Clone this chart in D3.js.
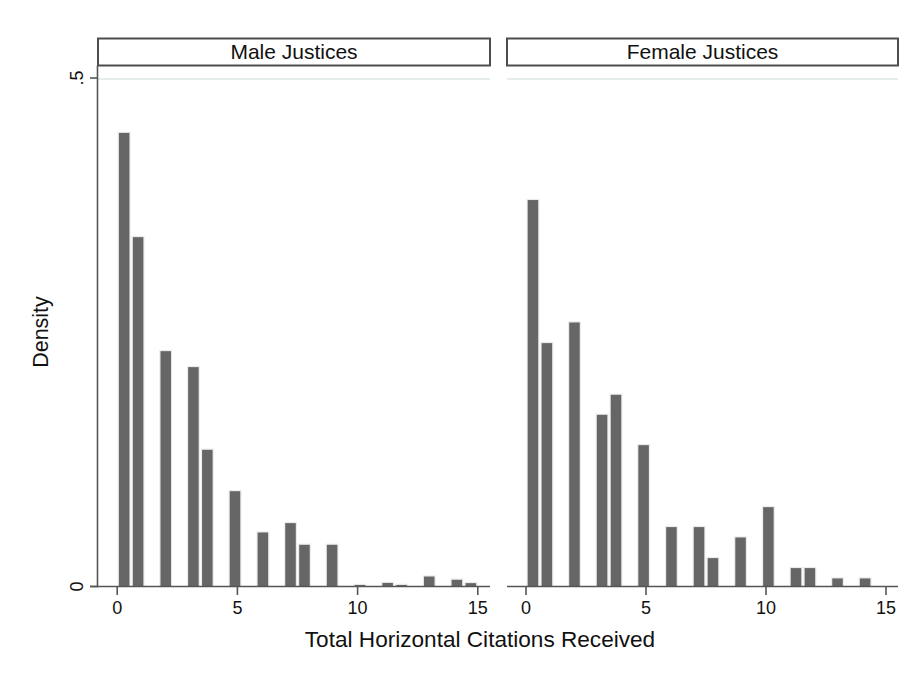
<!DOCTYPE html>
<html>
<head>
<meta charset="utf-8">
<script src="https://cdn.jsdelivr.net/npm/d3@7"></script>
<style>
  html, body { margin: 0; padding: 0; background: #ffffff; }
  svg { display: block; font-family: "Liberation Sans", Arial, Helvetica, sans-serif; }
</style>
</head>
<body>
<svg id="chart" width="917" height="673"></svg>
<script>
// ---- data ----
const panels = ["Male Justices", "Female Justices"];
const binWidth = 15 / 26;            // histogram bin width
const maleBinCenters = [0.29, 0.87, 2.02, 3.17, 3.75, 4.90, 6.06, 7.21, 7.79, 8.94, 10.10, 11.25, 11.83, 12.98, 14.13, 14.71];
const maleDensity    = [0.446, 0.3435, 0.2314, 0.2157, 0.1344, 0.0937, 0.0531, 0.0623, 0.041, 0.041, 0.0015, 0.0035, 0.0015, 0.0098, 0.0066, 0.0033];
const femaleBinCenters = [0.29, 0.87, 2.02, 3.17, 3.75, 4.90, 6.06, 7.21, 7.79, 8.94, 10.10, 11.25, 11.83, 12.98, 14.13];
const femaleDensity    = [0.380, 0.2393, 0.2596, 0.1688, 0.1885, 0.139, 0.0584, 0.0584, 0.0279, 0.0482, 0.078, 0.0181, 0.0181, 0.0079, 0.0079];
const xTicks = [0, 5, 10, 15];
const yTicks = [0, 0.5];
const yTickLabels = ["0", ".5"];
const xTitle = "Total Horizontal Citations Received";
const yTitle = "Density";

const series = [
  { name: panels[0], x: maleBinCenters, y: maleDensity },
  { name: panels[1], x: femaleBinCenters, y: femaleDensity }
];

// ---- layout ----
const svg = d3.select("#chart");
const panelBoxes = [
  { left: 98, right: 490, axisStart: 90, zeroX: 117.2, fifteenX: 477.8 },
  { left: 507, right: 898, axisStart: 507, zeroX: 526, fifteenX: 886 }
];
const headerTop = 38.5, headerBottom = 65.5;
const y = d3.scaleLinear().domain([0, 0.5]).range([586.5, 78]);
const axisColor = "#555555";
const barColor = "#666666";

series.forEach((s, i) => {
  const pb = panelBoxes[i];
  const x = d3.scaleLinear().domain([0, 15]).range([pb.zeroX, pb.fifteenX]);
  const g = svg.append("g");

  // header strip
  g.append("rect")
    .attr("x", pb.left).attr("y", headerTop)
    .attr("width", pb.right - pb.left).attr("height", headerBottom - headerTop)
    .attr("fill", "#ffffff").attr("stroke", "#4d4d4d").attr("stroke-width", 2);
  g.append("text")
    .attr("x", (pb.left + pb.right) / 2).attr("y", 59.3)
    .attr("text-anchor", "middle")
    .attr("font-size", 21).attr("fill", "#111")
    .text(s.name);

  // grid line at .5
  g.append("line")
    .attr("x1", pb.left).attr("x2", pb.right)
    .attr("y1", y(0.5) + 1).attr("y2", y(0.5) + 1)
    .attr("stroke", "#e6eded").attr("stroke-width", 2);

  // bars
  const data = s.x.map((v, k) => ({ c: v, d: s.y[k] }));
  const pxBin = x(binWidth) - x(0);
  const wFill = pxBin * 0.76;
  const wHalo = wFill + 2.4;
  g.selectAll("rect.halo").data(data).join("rect")
    .attr("class", "halo")
    .attr("x", d => x(d.c) - wHalo / 2)
    .attr("width", wHalo)
    .attr("y", d => y(d.d) - 1.2)
    .attr("height", d => y(0) - y(d.d) + 1.2)
    .attr("fill", "#ebebeb");
  g.selectAll("rect.bar").data(data).join("rect")
    .attr("class", "bar")
    .attr("x", d => x(d.c) - wFill / 2)
    .attr("width", wFill)
    .attr("y", d => y(d.d))
    .attr("height", d => y(0) - y(d.d))
    .attr("fill", barColor);

  // x axis
  g.append("line")
    .attr("x1", pb.axisStart).attr("x2", pb.right)
    .attr("y1", y(0)).attr("y2", y(0))
    .attr("stroke", axisColor).attr("stroke-width", 1.6);
  g.selectAll("line.xt").data(xTicks).join("line")
    .attr("class", "xt")
    .attr("x1", d => x(d)).attr("x2", d => x(d))
    .attr("y1", y(0)).attr("y2", y(0) + 8.5)
    .attr("stroke", axisColor).attr("stroke-width", 1.6);
  g.selectAll("text.xl").data(xTicks).join("text")
    .attr("class", "xl")
    .attr("x", d => x(d)).attr("y", 613.5)
    .attr("text-anchor", "middle")
    .attr("font-size", 18).attr("fill", "#111")
    .text(d => d);

  // y axis (left panel only)
  if (i === 0) {
    g.append("line")
      .attr("x1", pb.left - 0.5).attr("x2", pb.left - 0.5)
      .attr("y1", headerBottom).attr("y2", y(0) + 0.8)
      .attr("stroke", axisColor).attr("stroke-width", 1.6);
    g.selectAll("line.yt").data(yTicks).join("line")
      .attr("class", "yt")
      .attr("x1", pb.left - 8).attr("x2", pb.left - 0.5)
      .attr("y1", d => y(d)).attr("y2", d => y(d))
      .attr("stroke", axisColor).attr("stroke-width", 1.6);
    g.selectAll("text.yl").data(yTicks).join("text")
      .attr("class", "yl")
      .attr("transform", (d, k) => `translate(${83},${y(d)}) rotate(-90)`)
      .attr("text-anchor", "middle")
      .attr("font-size", 18).attr("fill", "#111")
      .text((d, k) => yTickLabels[k]);
  }
});

// axis titles
svg.append("text")
  .attr("x", 480).attr("y", 647)
  .attr("text-anchor", "middle")
  .attr("font-size", 22.6).attr("fill", "#111")
  .text(xTitle);
svg.append("text")
  .attr("transform", "translate(48,332) rotate(-90)")
  .attr("text-anchor", "middle")
  .attr("font-size", 21.5).attr("fill", "#111")
  .text(yTitle);
</script>
</body>
</html>
